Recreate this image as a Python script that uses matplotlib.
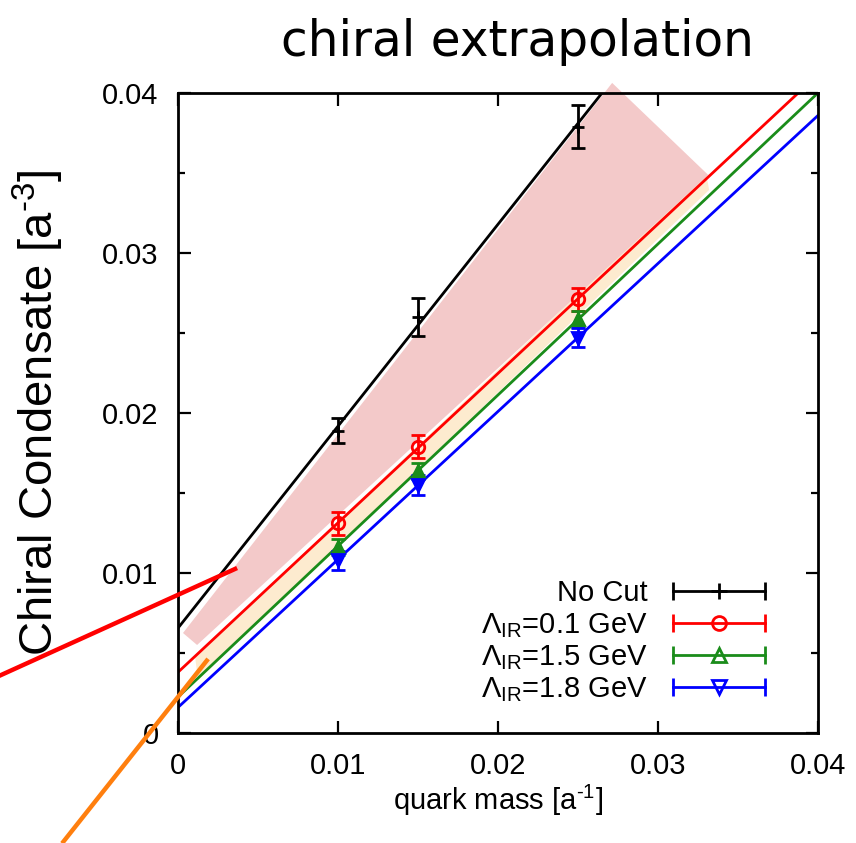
import matplotlib
matplotlib.use('Agg')
import matplotlib.pyplot as plt
import numpy as np
from matplotlib.lines import Line2D
from matplotlib.patches import Polygon
from matplotlib.legend_handler import HandlerLine2D, HandlerTuple

plt.rcParams['font.family'] = ['Liberation Sans', 'DejaVu Sans']
plt.rcParams['mathtext.fontset'] = 'custom'
plt.rcParams['mathtext.rm'] = 'Liberation Sans'
plt.rcParams['mathtext.it'] = 'Liberation Sans:italic'

# data
mass = [0.010, 0.015, 0.025]
labels = ['No Cut', r'$\Lambda_{\rm IR}$=0.1 GeV', r'$\Lambda_{\rm IR}$=1.5 GeV', r'$\Lambda_{\rm IR}$=1.8 GeV']
cond_nocut = [0.0189, 0.0260, 0.0379]
err_nocut = [0.0008, 0.0012, 0.00135]
cond_01 = [0.0131, 0.0179, 0.0271]
err_01 = [0.0007, 0.0007, 0.0007]
cond_15 = [0.0116, 0.0164, 0.0259]
err_15 = [0.0005, 0.0005, 0.0005]
cond_18 = [0.0108, 0.0155, 0.0247]
err_18 = [0.0006, 0.0006, 0.0006]

# linear fits (intercept, slope)
fit_intercept = [0.00656, 0.0038, 0.00225, 0.0016]
fit_slope = [1.262, 0.934, 0.944, 0.925]

colors = ['black', '#ff0000', '#1a8c1a', '#0000ff']
markers = ['+', 'o', '^', 'v']
series = [cond_nocut, cond_01, cond_15, cond_18]
errors = [err_nocut, err_01, err_15, err_18]

# highlight shapes (annotation, data coords)
pink_box = [(0.00031, 0.00625), (0.02713, 0.04063), (0.03313, 0.03488), (0.00119, 0.0055)]
beige_box = [(0.00106, 0.00480), (0.03300, 0.03500), (0.03319, 0.03394), (0.00125, 0.00331)]
red_arrow = [(-0.0112, 0.00356), (0.00369, 0.01031)]
orange_arrow = [(-0.00725, -0.0069), (0.00188, 0.00463)]

fig = plt.figure(figsize=(8.56, 8.43), dpi=100)
ax = fig.add_axes([0.208, 0.1305, 0.7477, 0.7592])

ax.add_patch(Polygon(beige_box, closed=True, facecolor='#fdebcf', edgecolor='none', zorder=1))
ax.add_patch(Polygon(pink_box, closed=True, facecolor='#f3c9c9', edgecolor='none', zorder=1, clip_on=False))

xs = np.array([0.0, 0.04])
for a, b, c in zip(fit_intercept, fit_slope, colors):
    ax.plot(xs, a + b * xs, color=c, lw=2.0, zorder=2)

handles = []
hmap = {tuple: HandlerTuple(ndivide=1, pad=0)}
for y, e, c, m, lab in zip(series, errors, colors, markers, labels):
    filled = m in ('^', 'v')
    ax.errorbar(mass, y, yerr=e, fmt=m, color=c, ms=9 if m != '+' else 8,
                mfc=c if filled else 'none', mew=2.0, elinewidth=2.0,
                capsize=5, capthick=2.0, zorder=3)
    caps = Line2D([], [], color=c, marker='|', ms=13, mew=2.0, lw=2.0)
    mk = Line2D([], [], color=c, marker=m, ms=10 if m != '+' else 12, mew=2.0,
                mfc='none', ls='none')
    hmap[caps] = HandlerLine2D(numpoints=2)
    hmap[mk] = HandlerLine2D(numpoints=1)
    handles.append((caps, mk))

ax.legend(handles, labels, handler_map=hmap, loc='lower right',
          bbox_to_anchor=(0.962, 0.013), frameon=False, markerfirst=False,
          fontsize=21, handlelength=3.75, handletextpad=0.55, labelspacing=0.12,
          borderpad=0.2)

for p in (red_arrow, orange_arrow):
    (x0, y0), (x1, y1) = p
    ax.plot([x0, x1], [y0, y1], color='#ff0000' if p is red_arrow else '#ff7f0e',
            lw=3.2, clip_on=False, zorder=5, solid_capstyle='butt')

ax.set_xlim(0, 0.04)
ax.set_ylim(0, 0.04)
ax.set_xticks([0, 0.01, 0.02, 0.03, 0.04])
ax.set_xticklabels(['0', '0.01', '0.02', '0.03', '0.04'])
ax.set_yticks([0, 0.01, 0.02, 0.03, 0.04])
ax.set_yticklabels(['0', '0.01', '0.02', '0.03', '0.04'])
ax.set_yticks(np.arange(0.005, 0.04, 0.01), minor=True)
ax.tick_params(which='both', direction='in', top=True, right=True, labelsize=21, width=1.6)
ax.tick_params(which='major', length=9, pad=14)
ax.tick_params(which='minor', length=5)
for s in ax.spines.values():
    s.set_linewidth(2.0)

ax.set_xlabel(r'quark mass [a$^{\text{-1}}$]', fontsize=21, labelpad=2)
ax.set_ylabel(r'Chiral Condensate [a$^{\text{-3}}$]', fontsize=34, labelpad=26)

fig.text(0.605, 0.95, 'chiral extrapolation', ha='center', va='center',
         fontsize=35, family=['DejaVu Sans'])

fig.savefig('out.png', dpi=100)
